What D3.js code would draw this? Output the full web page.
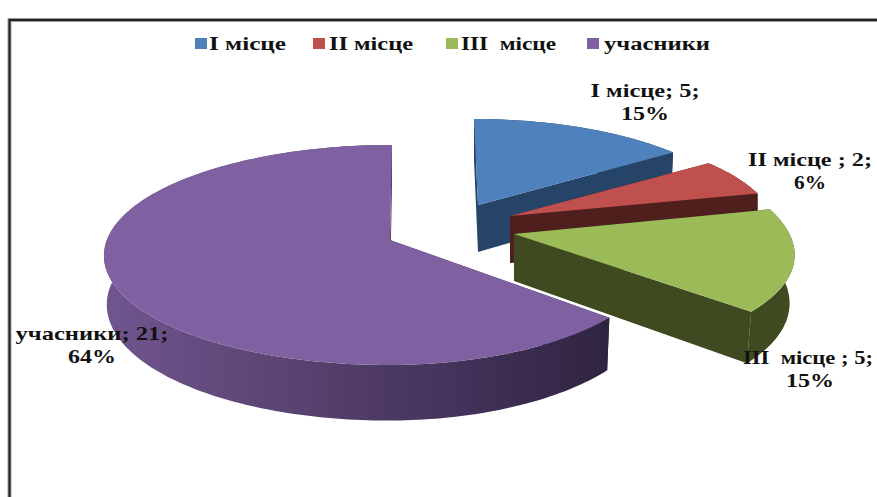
<!DOCTYPE html>
<html><head><meta charset="utf-8">
<script src="https://cdnjs.cloudflare.com/ajax/libs/d3/7.8.5/d3.min.js"></script>
<style>html,body{margin:0;padding:0;background:#fff}svg{display:block}
text{font-family:"Liberation Serif",serif;font-weight:bold;fill:#111;white-space:pre}</style>
</head><body><svg id="c" width="877" height="497"></svg>
<script>
const categories=["І місце","ІІ місце","ІІІ  місце","учасники"];
const values=[5,2,5,21];
const labelNames=["І місце","ІІ місце ","ІІІ  місце ","учасники"];
const percents=["15%","6%","15%","64%"];
const topColors=["#4f81bd","#c0504d","#9bbb59","#7f61a1"];
const sideColors=["#264467","#4f1f1d","#3f4a20","url(#purpleSide)"];

// layout of the exploded 3D view
const apexX=[478,510,514,390], apexY=[205,216,234,240];
const sizeScale=[0.905,0.91,1,1];
const rightScale=[1.01,1.01,0.963,0.93], rightTilt=[0,0,0.056,0], leftScale=[1,1,1,0.99];
const shearX=[4,0,0,-2], bottomShrink=[0.99,1,0.982,0.99];
const Rx=286,Ry=108,persp=0.136,depths=[47,47,47,48];
const drawOrder=[0,1,3,2];
const legendX=[195,313,446,587], legendTextX=[209,329,461,604], legendTextW=[77,84,95,106];
const labelCX=[645,810,808,92], labelY=[97,166,364,340], labelW=[109,124,130,153], pctW=[48,32,48,48], pctDX=[0,0,2,0];

const svg=d3.select("#c");
const g=svg.append("defs").append("linearGradient").attr("id","purpleSide").attr("gradientUnits","userSpaceOnUse")
 .attr("x1",104).attr("x2",610).attr("y1",0).attr("y2",0);
[[0,"#70558f"],[0.35,"#5b4472"],[0.7,"#43325a"],[1,"#2f2440"]].forEach(s=>g.append("stop").attr("offset",s[0]).attr("stop-color",s[1]));

// frame
svg.append("path").attr("d","M9.5,497V20H877").attr("fill","none").attr("stroke","#9a9a9a").attr("stroke-width",4);
svg.append("path").attr("d","M9.5,497V20H877").attr("fill","none").attr("stroke","#222").attr("stroke-width",2);

const slices=d3.pie().sort(null).value(d=>d)(values);
const line=d3.line().x(d=>d[0]).y(d=>d[1]);
function project(i,a,r,bottom){
  const u=Math.sin(a)*r, v=-Math.cos(a)*r, s=sizeScale[i]/(1-persp*v);
  const xs=u>0?rightScale[i]+rightTilt[i]*v:leftScale[i];
  let dx=Rx*u*s*xs+shearX[i]*v, dy=Ry*v*s;
  if(bottom){dx*=bottomShrink[i]; dy+=depths[i]/(1-persp*v);}
  return [apexX[i]+dx,apexY[i]+dy];
}
function rim(i,a0,a1,bottom){
  const n=Math.max(2,Math.ceil((a1-a0)/0.02));
  return d3.range(n+1).map(k=>project(i,a0+(a1-a0)*k/n,1,bottom));
}
drawOrder.forEach(i=>{
  const d=slices[i], a0=d.startAngle, a1=d.endAngle;
  const group=svg.append("g");
  const apexT=project(i,0,0,false), apexB=project(i,0,0,true);
  group.append("path").attr("d",line(rim(i,a0,a1,false).concat(rim(i,a0,a1,true).reverse()))+"Z").attr("fill",sideColors[i]);
  [a0,a1].forEach(a=>{
    group.append("path").attr("d",line([apexT,project(i,a,1,false),project(i,a,1,true),apexB])+"Z").attr("fill",sideColors[i]);
  });
  group.append("path").attr("d",line([apexT].concat(rim(i,a0,a1,false)))+"Z").attr("fill",topColors[i]);
});

// legend
categories.forEach((c,i)=>{
  svg.append("rect").attr("x",legendX[i]).attr("y",38).attr("width",12).attr("height",11).attr("fill",topColors[i]);
  svg.append("text").attr("x",legendTextX[i]).attr("y",50).attr("font-size",18.5)
    .attr("textLength",legendTextW[i]).attr("lengthAdjust","spacingAndGlyphs").text(c);
});
// data labels
slices.forEach((d,i)=>{
  svg.append("text").attr("x",labelCX[i]).attr("y",labelY[i]).attr("font-size",19).attr("text-anchor","middle")
    .attr("textLength",labelW[i]).attr("lengthAdjust","spacingAndGlyphs")
    .text(`${labelNames[i]}; ${values[i]};`);
  svg.append("text").attr("x",labelCX[i]+pctDX[i]).attr("y",labelY[i]+23).attr("font-size",19).attr("text-anchor","middle")
    .attr("textLength",pctW[i]).attr("lengthAdjust","spacingAndGlyphs").text(percents[i]);
});
</script></body></html>
